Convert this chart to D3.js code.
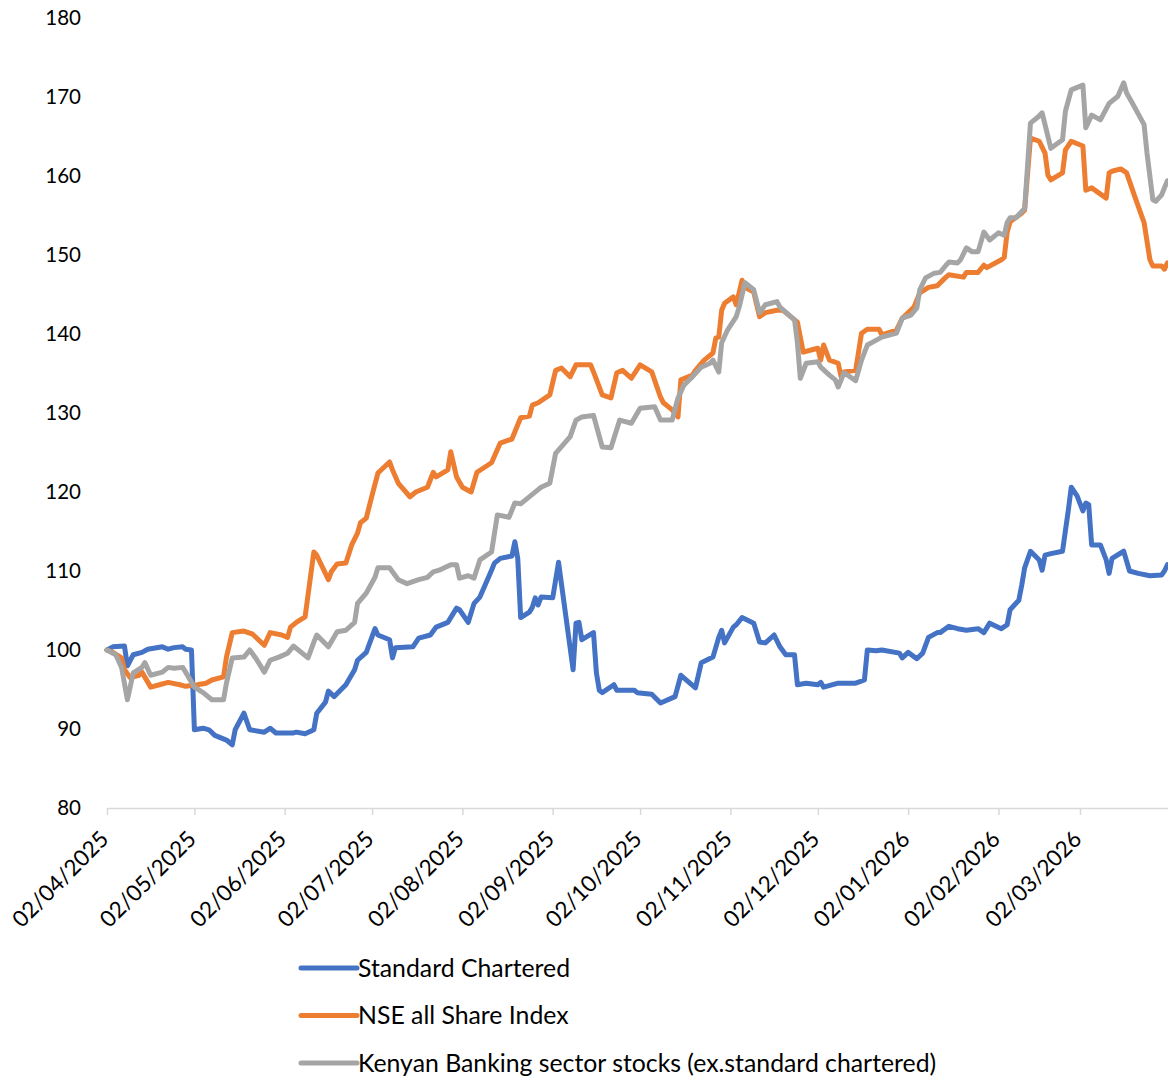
<!DOCTYPE html>
<html lang="en">
<head>
<meta charset="utf-8">
<title>Standard Chartered vs NSE</title>
<script src="https://d3js.org/d3.v7.min.js"></script>
<style type="text/css">
  body { margin: 0; background: #fff; }
  text { font-family: Lato, "Open Sans", sans-serif; fill: #000; }
</style>
</head>
<body>
<script type="text/javascript">

// tick labels and axis range
var tickLabels = ["02/04/2025", "02/05/2025", "02/06/2025", "02/07/2025", "02/08/2025", "02/09/2025",
                  "02/10/2025", "02/11/2025", "02/12/2025", "02/01/2026", "02/02/2026", "02/03/2026"];
var xDomain = ["02/04/2025", "02/04/2026"];
var yTicks = [80, 90, 100, 110, 120, 130, 140, 150, 160, 170, 180];

var seriesNames = ["Standard Chartered", "NSE all Share Index",
                   "Kenyan Banking sector stocks (ex.standard chartered)"];

// rebased to 100 on 02/04/2025
var standardChartered = [
  ["2025-04-02",100.0],["2025-04-04",100.4],["2025-04-08",100.5],["2025-04-09",98.0],["2025-04-11",99.4],
  ["2025-04-14",99.7],["2025-04-16",100.1],["2025-04-21",100.4],["2025-04-23",100.1],["2025-04-25",100.3],
  ["2025-04-28",100.4],["2025-04-29",100.1],["2025-05-01",100.0],["2025-05-02",89.9],["2025-05-05",90.1],
  ["2025-05-07",89.9],["2025-05-09",89.2],["2025-05-13",88.6],["2025-05-15",88.0],["2025-05-16",89.9],
  ["2025-05-19",92.0],["2025-05-21",89.9],["2025-05-26",89.6],["2025-05-28",90.1],["2025-05-30",89.5],
  ["2025-06-05",89.5],["2025-06-06",89.6],["2025-06-09",89.4],["2025-06-12",89.9],["2025-06-13",92.0],
  ["2025-06-16",93.4],["2025-06-17",94.8],["2025-06-19",94.1],["2025-06-23",95.6],["2025-06-26",97.5],
  ["2025-06-27",98.7],["2025-06-30",99.7],["2025-07-03",102.7],["2025-07-04",101.9],["2025-07-08",101.3],
  ["2025-07-09",99.0],["2025-07-10",100.3],["2025-07-16",100.4],["2025-07-18",101.5],["2025-07-22",101.9],
  ["2025-07-24",102.9],["2025-07-28",103.5],["2025-07-31",105.3],["2025-08-01",105.1],["2025-08-04",103.5],
  ["2025-08-06",105.9],["2025-08-08",106.7],["2025-08-12",110.1],["2025-08-13",111.0],["2025-08-15",111.6],
  ["2025-08-19",111.9],["2025-08-20",113.7],["2025-08-21",111.6],["2025-08-22",104.1],["2025-08-25",104.8],
  ["2025-08-26",105.4],["2025-08-27",106.6],["2025-08-28",105.7],["2025-08-29",106.7],["2025-09-02",106.6],
  ["2025-09-04",111.1],["2025-09-09",97.5],["2025-09-10",103.4],["2025-09-11",103.5],["2025-09-12",101.3],
  ["2025-09-16",102.2],["2025-09-17",97.1],["2025-09-18",94.9],["2025-09-19",94.6],["2025-09-23",95.6],
  ["2025-09-24",94.9],["2025-09-30",94.9],["2025-10-01",94.6],["2025-10-06",94.4],["2025-10-09",93.3],
  ["2025-10-14",94.1],["2025-10-16",96.8],["2025-10-21",95.2],["2025-10-23",98.4],["2025-10-27",99.1],
  ["2025-10-29",101.6],["2025-10-30",102.5],["2025-10-31",100.9],["2025-11-03",102.9],["2025-11-04",103.2],
  ["2025-11-06",104.1],["2025-11-10",103.4],["2025-11-12",101.0],["2025-11-14",100.9],["2025-11-17",101.9],
  ["2025-11-19",100.4],["2025-11-21",99.4],["2025-11-24",99.4],["2025-11-25",95.6],["2025-11-28",95.8],
  ["2025-12-02",95.6],["2025-12-03",95.9],["2025-12-04",95.3],["2025-12-09",95.8],["2025-12-15",95.8],
  ["2025-12-18",96.2],["2025-12-19",100.0],["2025-12-22",99.9],["2025-12-24",100.0],["2025-12-30",99.6],
  ["2025-12-31",99.0],["2026-01-02",99.7],["2026-01-05",98.9],["2026-01-07",99.6],["2026-01-09",101.6],
  ["2026-01-12",102.2],["2026-01-13",102.2],["2026-01-16",103.0],["2026-01-19",102.7],["2026-01-22",102.5],
  ["2026-01-26",102.7],["2026-01-28",102.2],["2026-01-30",103.4],["2026-02-03",102.7],["2026-02-05",103.2],
  ["2026-02-06",105.1],["2026-02-09",106.3],["2026-02-10",108.2],["2026-02-11",110.4],["2026-02-13",112.5],
  ["2026-02-16",111.4],["2026-02-17",110.1],["2026-02-18",112.0],["2026-02-20",112.2],["2026-02-24",112.5],
  ["2026-02-25",115.1],["2026-02-26",117.7],["2026-02-27",120.6],["2026-03-01",119.5],["2026-03-03",117.6],
  ["2026-03-04",118.6],["2026-03-05",118.4],["2026-03-06",113.3],["2026-03-09",113.3],["2026-03-11",111.4],
  ["2026-03-12",109.7],["2026-03-13",111.6],["2026-03-17",112.5],["2026-03-19",110.0],["2026-03-22",109.7],
  ["2026-03-26",109.4],["2026-03-30",109.5],["2026-03-31",110.0],["2026-04-01",110.8]
];

var nseAllShare = [
  ["2025-04-02",100.0],["2025-04-04",99.7],["2025-04-07",99.0],["2025-04-08",97.5],["2025-04-10",96.5],
  ["2025-04-13",96.8],["2025-04-14",97.2],["2025-04-17",95.3],["2025-04-20",95.6],["2025-04-23",95.9],
  ["2025-04-27",95.6],["2025-04-29",95.4],["2025-05-03",95.6],["2025-05-06",95.8],["2025-05-08",96.2],
  ["2025-05-12",96.6],["2025-05-13",99.1],["2025-05-15",102.2],["2025-05-19",102.4],["2025-05-22",102.0],
  ["2025-05-26",100.6],["2025-05-28",102.2],["2025-06-01",101.9],["2025-06-03",101.6],["2025-06-04",102.9],
  ["2025-06-06",103.5],["2025-06-09",104.2],["2025-06-12",112.4],["2025-06-13",112.0],["2025-06-17",108.9],
  ["2025-06-18",109.9],["2025-06-20",110.9],["2025-06-23",111.0],["2025-06-25",113.3],["2025-06-27",114.8],
  ["2025-06-28",116.1],["2025-06-30",116.7],["2025-07-02",119.6],["2025-07-04",122.4],["2025-07-08",123.8],
  ["2025-07-09",122.8],["2025-07-11",121.1],["2025-07-15",119.4],["2025-07-17",120.0],["2025-07-21",120.6],
  ["2025-07-23",122.5],["2025-07-24",121.9],["2025-07-28",122.8],["2025-07-29",125.1],["2025-07-31",121.9],
  ["2025-08-02",120.6],["2025-08-05",120.0],["2025-08-07",122.5],["2025-08-12",123.7],["2025-08-15",126.2],
  ["2025-08-19",126.7],["2025-08-22",129.4],["2025-08-25",129.6],["2025-08-26",131.0],["2025-08-28",131.3],
  ["2025-09-01",132.3],["2025-09-03",135.4],["2025-09-05",135.7],["2025-09-08",134.6],["2025-09-10",136.1],
  ["2025-09-15",136.1],["2025-09-16",135.2],["2025-09-19",132.3],["2025-09-22",131.9],["2025-09-24",135.1],
  ["2025-09-26",135.4],["2025-09-29",134.4],["2025-10-02",136.1],["2025-10-06",135.2],["2025-10-09",132.0],
  ["2025-10-10",131.3],["2025-10-13",130.4],["2025-10-15",129.5],["2025-10-16",134.2],["2025-10-20",134.8],
  ["2025-10-21",135.4],["2025-10-24",136.7],["2025-10-27",137.6],["2025-10-28",139.5],["2025-10-29",139.6],
  ["2025-10-30",143.0],["2025-10-31",143.9],["2025-11-03",144.7],["2025-11-04",143.7],["2025-11-06",146.8],
  ["2025-11-07",145.9],["2025-11-10",145.3],["2025-11-12",142.2],["2025-11-14",142.7],["2025-11-18",143.0],
  ["2025-11-20",143.0],["2025-11-21",142.7],["2025-11-25",141.5],["2025-11-27",137.7],["2025-12-01",138.1],
  ["2025-12-02",138.2],["2025-12-03",136.7],["2025-12-04",138.6],["2025-12-06",136.7],["2025-12-09",136.3],
  ["2025-12-10",134.6],["2025-12-11",135.2],["2025-12-15",135.4],["2025-12-17",140.1],["2025-12-19",140.6],
  ["2025-12-23",140.6],["2025-12-24",139.9],["2025-12-29",140.5],["2025-12-31",142.0],["2026-01-04",143.4],
  ["2026-01-06",145.2],["2026-01-09",145.9],["2026-01-12",146.1],["2026-01-15",147.2],["2026-01-16",147.5],
  ["2026-01-21",147.2],["2026-01-22",147.8],["2026-01-26",147.8],["2026-01-28",148.7],["2026-01-29",148.4],
  ["2026-02-03",149.4],["2026-02-04",149.7],["2026-02-05",152.9],["2026-02-06",154.2],["2026-02-10",155.3],
  ["2026-02-11",155.7],["2026-02-13",164.8],["2026-02-16",164.4],["2026-02-18",162.9],["2026-02-19",160.1],
  ["2026-02-20",159.5],["2026-02-24",160.4],["2026-02-25",163.3],["2026-02-27",164.4],["2026-03-03",163.8],
  ["2026-03-04",158.2],["2026-03-06",158.5],["2026-03-11",157.2],["2026-03-12",160.4],["2026-03-13",160.6],
  ["2026-03-16",160.9],["2026-03-18",160.4],["2026-03-21",157.2],["2026-03-24",154.1],["2026-03-26",149.4],
  ["2026-03-27",148.6],["2026-03-30",148.6],["2026-03-31",148.2],["2026-04-01",149.0]
];

var bankingSector = [
  ["2025-04-02",100.0],["2025-04-05",99.4],["2025-04-07",97.8],["2025-04-09",93.7],["2025-04-11",97.1],
  ["2025-04-14",97.8],["2025-04-15",98.4],["2025-04-17",96.8],["2025-04-21",97.2],["2025-04-23",97.8],
  ["2025-04-25",97.7],["2025-04-28",97.8],["2025-04-29",97.2],["2025-05-02",95.3],["2025-05-05",94.6],
  ["2025-05-08",93.7],["2025-05-12",93.7],["2025-05-13",95.8],["2025-05-15",99.0],["2025-05-19",99.1],
  ["2025-05-21",100.0],["2025-05-23",99.0],["2025-05-26",97.2],["2025-05-28",98.7],["2025-05-31",99.1],
  ["2025-06-03",99.6],["2025-06-05",100.5],["2025-06-10",99.0],["2025-06-12",101.0],["2025-06-13",101.9],
  ["2025-06-17",100.4],["2025-06-20",102.3],["2025-06-23",102.5],["2025-06-26",103.5],["2025-06-27",105.9],
  ["2025-06-30",107.2],["2025-07-03",109.2],["2025-07-04",110.4],["2025-07-08",110.4],["2025-07-11",108.9],
  ["2025-07-14",108.4],["2025-07-18",108.9],["2025-07-21",109.2],["2025-07-23",109.9],["2025-07-25",110.1],
  ["2025-07-29",110.8],["2025-07-31",110.8],["2025-08-01",109.1],["2025-08-04",109.4],["2025-08-06",109.1],
  ["2025-08-08",111.4],["2025-08-12",112.4],["2025-08-14",117.1],["2025-08-18",116.8],["2025-08-20",118.6],
  ["2025-08-22",118.5],["2025-08-28",120.3],["2025-08-29",120.6],["2025-09-01",121.1],["2025-09-03",124.9],
  ["2025-09-08",127.0],["2025-09-10",129.1],["2025-09-12",129.5],["2025-09-16",129.7],["2025-09-19",125.7],
  ["2025-09-22",125.6],["2025-09-25",129.1],["2025-09-29",128.7],["2025-10-02",130.6],["2025-10-07",130.8],
  ["2025-10-09",129.1],["2025-10-13",129.1],["2025-10-15",131.9],["2025-10-17",133.5],["2025-10-20",134.6],
  ["2025-10-23",135.8],["2025-10-26",136.3],["2025-10-27",136.7],["2025-10-29",135.2],["2025-10-30",138.9],
  ["2025-11-01",140.5],["2025-11-04",142.2],["2025-11-05",143.4],["2025-11-07",146.5],["2025-11-10",145.6],
  ["2025-11-12",142.7],["2025-11-14",143.7],["2025-11-18",144.1],["2025-11-19",143.4],["2025-11-24",141.8],
  ["2025-11-25",138.9],["2025-11-26",134.4],["2025-11-28",136.3],["2025-12-02",136.5],["2025-12-03",135.8],
  ["2025-12-06",134.8],["2025-12-08",134.2],["2025-12-09",133.3],["2025-12-11",135.1],["2025-12-15",134.1],
  ["2025-12-17",136.7],["2025-12-19",138.6],["2025-12-21",139.0],["2025-12-24",139.6],["2025-12-29",140.1],
  ["2025-12-31",142.0],["2026-01-03",142.4],["2026-01-05",143.3],["2026-01-06",145.6],["2026-01-08",147.1],
  ["2026-01-11",147.7],["2026-01-13",147.8],["2026-01-15",148.7],["2026-01-16",149.1],["2026-01-19",149.0],
  ["2026-01-20",149.4],["2026-01-22",150.9],["2026-01-24",150.4],["2026-01-26",150.4],["2026-01-28",152.9],
  ["2026-01-30",151.9],["2026-02-02",152.8],["2026-02-04",152.5],["2026-02-05",154.1],["2026-02-06",154.7],
  ["2026-02-08",154.7],["2026-02-11",155.9],["2026-02-13",166.7],["2026-02-16",167.6],["2026-02-17",168.0],
  ["2026-02-20",163.5],["2026-02-24",164.6],["2026-02-25",168.2],["2026-02-27",170.9],["2026-03-03",171.5],
  ["2026-03-04",166.1],["2026-03-06",167.7],["2026-03-09",167.1],["2026-03-12",169.2],["2026-03-15",170.1],
  ["2026-03-17",171.8],["2026-03-18",170.5],["2026-03-20",169.2],["2026-03-24",166.5],["2026-03-25",162.9],
  ["2026-03-27",157.0],["2026-03-28",156.8],["2026-03-30",157.6],["2026-04-01",159.4]
];

var colors = ["#4472C4", "#ED7D31", "#A5A5A5"];

var w = 1168;
var h = 1078;

var parseTick = d3.utcParse("%d/%m/%Y");
var parseDay = d3.utcParse("%Y-%m-%d");

var svg = d3.select("body")
            .append("svg")
            .attr("width", w)
            .attr("height", h);

var x = d3.scaleUtc()
          .domain(xDomain.map(parseTick))
          .range([107, 1170.3]);

var y = d3.scaleLinear()
          .domain([80, 180])
          .range([808, 18]);

// x axis
var xAxis = d3.axisBottom(x)
              .tickValues(tickLabels.map(parseTick))
              .tickFormat(d3.utcFormat("%d/%m/%Y"))
              .tickSize(7)
              .tickSizeOuter(0);

var gx = svg.append("g")
            .attr("transform", "translate(0,808)")
            .call(xAxis);

gx.select(".domain").attr("stroke", "#D9D9D9").attr("stroke-width", 1.5);
gx.selectAll(".tick line").attr("stroke", "#D9D9D9").attr("stroke-width", 1.5);
gx.selectAll(".tick text")
  .attr("x", 0)
  .attr("y", 0)
  .attr("dy", "0.35em")
  .attr("text-anchor", "end")
  .attr("transform", "translate(-3,27) rotate(-45)")
  .style("font-size", "22.5px")
  .style("font-family", "Lato")
  .attr("fill", "#000");

// y labels (no axis line)
svg.append("g")
   .selectAll("text")
   .data(yTicks)
   .enter()
   .append("text")
   .attr("x", 81)
   .attr("y", function(d) { return y(d); })
   .attr("dy", "0.35em")
   .attr("text-anchor", "end")
   .style("font-size", "20.5px")
   .text(function(d) { return d; });

var line = d3.line()
             .x(function(d) { return x(parseDay(d[0])); })
             .y(function(d) { return y(d[1]); });

var allSeries = [standardChartered, nseAllShare, bankingSector];

svg.append("g")
   .selectAll("path")
   .data(allSeries)
   .enter()
   .append("path")
   .attr("d", line)
   .attr("fill", "none")
   .attr("stroke", function(d, i) { return colors[i]; })
   .attr("stroke-width", 5)
   .attr("stroke-linejoin", "round")
   .attr("stroke-linecap", "round");

// legend
var legend = svg.append("g")
                .selectAll("g")
                .data(seriesNames)
                .enter()
                .append("g")
                .attr("transform", function(d, i) { return "translate(0," + (968 + i * 47.5) + ")"; });

legend.append("line")
      .attr("x1", 301)
      .attr("x2", 357)
      .attr("stroke", function(d, i) { return colors[i]; })
      .attr("stroke-width", 5)
      .attr("stroke-linecap", "round");

legend.append("text")
      .attr("x", 358)
      .attr("dy", "0.35em")
      .style("font-size", "24.8px")
      .text(function(d) { return d; });

</script>
</body>
</html>
